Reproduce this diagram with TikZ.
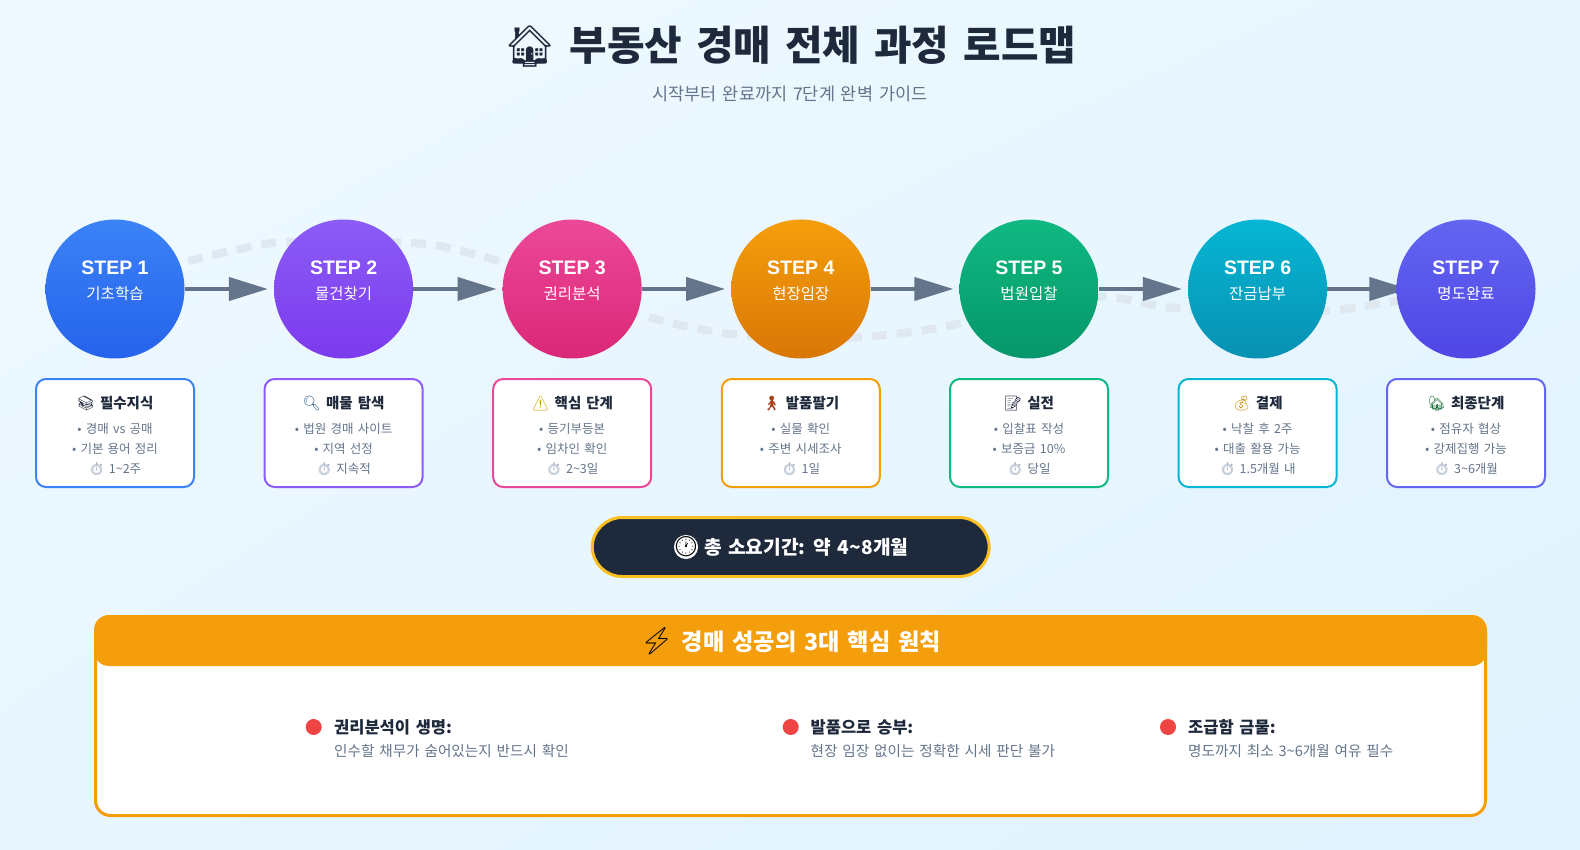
\documentclass[tikz,border=0pt]{standalone}
\usepackage{fontspec}
\setmainfont{Noto Sans CJK KR}[WordSpace=1.5]
\newfontfamily\emoji{Noto Emoji}
\newfontfamily\latin{Liberation Sans}
\usetikzlibrary{arrows.meta,backgrounds,shadings}

\definecolor{pageA}{HTML}{F0F9FF}
\definecolor{pageB}{HTML}{E8F6FF}
\definecolor{pageC}{HTML}{E0F2FE}
\definecolor{ink}{HTML}{1E293B}
\definecolor{slate}{HTML}{64748B}
\definecolor{timergrey}{HTML}{94A3B8}
\definecolor{wavegrey}{HTML}{DFE7EF}
\definecolor{amber}{HTML}{F59E0B}
\definecolor{pillrim}{HTML}{FBBF24}
\definecolor{dotred}{HTML}{EF4444}
\definecolor{warnyellow}{HTML}{C9A200}
\definecolor{moneygold}{HTML}{C98A00}
\definecolor{lensblue}{HTML}{2F5F86}
\definecolor{homegreen}{HTML}{1F6B3A}
\definecolor{walkred}{HTML}{A8401E}
\definecolor{blueA}{HTML}{3B82F6}
\definecolor{blueB}{HTML}{2563EB}
\definecolor{violetA}{HTML}{8B5CF6}
\definecolor{violetB}{HTML}{7C3AED}
\definecolor{pinkA}{HTML}{EC4899}
\definecolor{pinkB}{HTML}{DB2777}
\definecolor{orangeA}{HTML}{F59E0B}
\definecolor{orangeB}{HTML}{D97706}
\definecolor{greenA}{HTML}{10B981}
\definecolor{greenB}{HTML}{059669}
\definecolor{cyanA}{HTML}{06B6D4}
\definecolor{cyanB}{HTML}{0891B2}
\definecolor{indigoA}{HTML}{6366F1}
\definecolor{indigoB}{HTML}{4F46E5}

\newcommand{\fs}[1]{\fontsize{#1}{#1}\selectfont}
\newcommand{\stepcap}[2]{{\latin\bfseries\fs{19.5}#1}\\[11pt]{\fs{15.5}#2\rule[-17pt]{0pt}{0pt}}}
\newcommand{\boxhead}[2]{\rule{0pt}{18pt}{\bfseries\fs{14.5}\color{ink}{\emoji #1} #2}\\[5pt]}
\newcommand{\timer}{{\emoji\color{timergrey}⏱}}

\begin{document}
\begin{tikzpicture}[
  x=1pt, y=-1pt,
  stepnode/.style={circle, top color=#1A, bottom color=#1B, text=white, align=center, minimum size=139pt, inner sep=0pt},
  infobox/.style={draw=#1A, line width=2pt, fill=white, rounded corners=10pt, minimum width=158pt, minimum height=108pt, inner sep=0pt, align=center, text=slate, font=\fontsize{12.5}{20}\selectfont},
  arrow/.style={-{Triangle[length=39pt,width=23pt]}, line width=4pt, slate, shorten >=6pt},
  wave/.style={wavegrey, line width=8pt, dash pattern=on 15pt off 10pt},
  dot/.style={circle, fill=dotred, minimum size=16pt, inner sep=0pt},
  itemhead/.style={anchor=west, inner sep=0pt, text=ink, font=\bfseries\fs{16.5}},
  itemtext/.style={anchor=west, inner sep=0pt, text=slate, font=\fs{14.6}}
]
\useasboundingbox (0,0) rectangle (1580,850);

\node[inner sep=0pt, text=ink, font=\bfseries\fs{40.8}] (title) at (790,47) {{\emoji 🏠} 부동산 경매 전체 과정 로드맵};
\node[inner sep=0pt, text=slate, font=\fs{17.5}] (subtitle) at (790,94) {시작부터 완료까지 7단계 완벽 가이드};

% steps
\node[stepnode=blue] (s1) at (115,289) {\stepcap{STEP 1}{기초학습}};
\node[stepnode=violet] (s2) at (343.6,289) {\stepcap{STEP 2}{물건찾기}};
\node[stepnode=pink] (s3) at (572.2,289) {\stepcap{STEP 3}{권리분석}};
\node[stepnode=orange] (s4) at (800.8,289) {\stepcap{STEP 4}{현장임장}};
\node[stepnode=green] (s5) at (1029,289) {\stepcap{STEP 5}{법원입찰}};
\node[stepnode=cyan] (s6) at (1257.6,289) {\stepcap{STEP 6}{잔금납부}};
\node[stepnode=indigo] (s7) at (1466,289) {\stepcap{STEP 7}{명도완료}};

% detail boxes
\node[infobox=blue] (b1) at (115,433) {\boxhead{📚}{필수지식}• 경매 vs 공매\\• 기본 용어 정리\\\timer{} 1\textasciitilde 2주};
\node[infobox=violet] (b2) at (343.6,433) {\boxhead{\color{lensblue}🔍}{매물 탐색}• 법원 경매 사이트\\• 지역 선정\\\timer{} 지속적};
\node[infobox=pink] (b3) at (572.2,433) {\boxhead{\color{warnyellow}⚠}{핵심 단계}• 등기부등본\\• 임차인 확인\\\timer{} 2\textasciitilde 3일};
\node[infobox=orange] (b4) at (800.8,433) {\boxhead{\color{walkred}🚶}{발품팔기}• 실물 확인\\• 주변 시세조사\\\timer{} 1일};
\node[infobox=green] (b5) at (1029,433) {\boxhead{📝}{실전}• 입찰표 작성\\• 보증금 10\%\\\timer{} 당일};
\node[infobox=cyan] (b6) at (1257.6,433) {\boxhead{\color{moneygold}💰}{결제}• 낙찰 후 2주\\• 대출 활용 가능\\\timer{} 1.5개월 내};
\node[infobox=indigo] (b7) at (1466,433) {\boxhead{\color{homegreen}🏡}{최종단계}• 점유자 협상\\• 강제집행 가능\\\timer{} 3\textasciitilde 6개월};

% total time
\node[draw=pillrim, line width=3pt, fill=ink, rounded corners=30pt, minimum width=397pt, minimum height=59pt, text=white, font=\bfseries\fs{19.2}, text height=17pt, text depth=3pt] (total) at (790.7,547) {{\emoji\phantom{🕐}} 총 소요기간: 약 4\textasciitilde 8개월};
\node[circle, fill=white, minimum size=19pt, inner sep=-3pt, text=black, font=\emoji\fs{20}] (clock) at (686,547) {🕐};

% principles
\node[draw=amber, line width=3pt, fill=white, rounded corners=15pt, minimum width=1390pt, minimum height=199pt] (card) at (790.5,716) {};
\node[fill=amber, rounded corners=15pt, minimum width=1393pt, minimum height=51pt, text=white, font=\bfseries\fs{23.2}, text height=22pt, text depth=3pt] (cardhead) at (790.5,640.5) {{\emoji\color{black}\fs{27}⚡} 경매 성공의 3대 핵심 원칙};

\node[dot] (d1) at (313.7,727) {};
\node[itemhead] (h1) at (334,727) {권리분석이 생명:};
\node[itemtext] (t1) at (334,751) {인수할 채무가 숨어있는지 반드시 확인};
\node[dot] (d2) at (790.7,727) {};
\node[itemhead] (h2) at (810.5,727) {발품으로 승부:};
\node[itemtext] (t2) at (810.5,751) {현장 임장 없이는 정확한 시세 판단 불가};
\node[dot] (d3) at (1168,727) {};
\node[itemhead] (h3) at (1188,727) {조급함 금물:};
\node[itemtext] (t3) at (1188,751) {명도까지 최소 3\textasciitilde 6개월 여유 필수};

\begin{scope}[on background layer]
\shade[upper left=pageA, upper right=pageB, lower left=pageB, lower right=pageC] (0,0) rectangle (1580,850);
\draw[wave] plot[smooth, tension=0.6] coordinates {(115,278) (184,262) (240,249) (291,242) (412,243) (466,252) (504,263) (572,288) (642,315) (717,332) (790,338) (862,337) (953,325) (1029,300) (1107,297) (1166,307) (1257,314) (1333,310) (1385,303) (1466,289)};
\draw[arrow] (s1) -- (s2);
\draw[arrow] (s2) -- (s3);
\draw[arrow] (s3) -- (s4);
\draw[arrow] (s4) -- (s5);
\draw[arrow] (s5) -- (s6);
\draw[arrow, shorten >=-12pt] (s6) -- (s7);
\end{scope}
\end{tikzpicture}
\end{document}
